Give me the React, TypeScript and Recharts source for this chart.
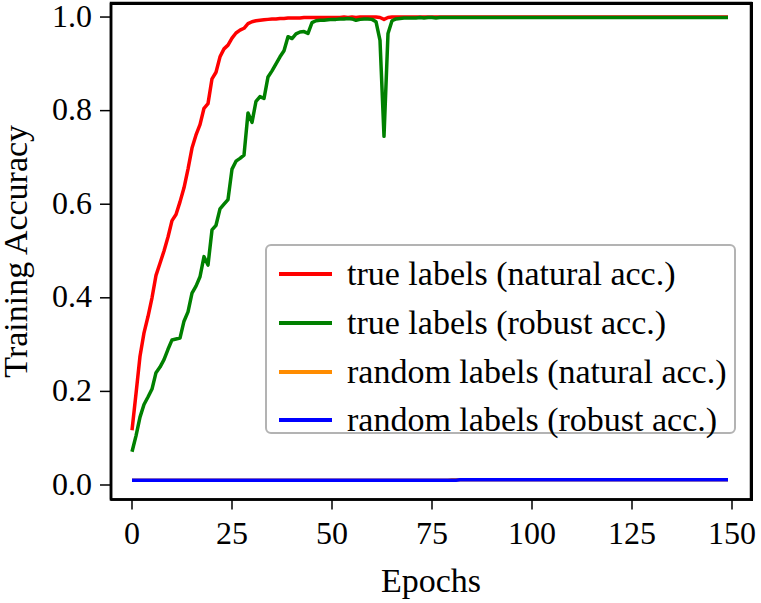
import React from 'react';
import { LineChart, Line, XAxis, YAxis, Legend, ReferenceArea } from 'recharts';

const FONT = '"Liberation Serif", "Times New Roman", serif';

// epochs 0..149
const trueNatural = [
  0.117, 0.195, 0.275, 0.325, 0.36, 0.40, 0.448, 0.474, 0.50, 0.53,
  0.565, 0.578, 0.605, 0.635, 0.675, 0.72, 0.748, 0.77, 0.805, 0.815,
  0.868, 0.882, 0.915, 0.932, 0.94, 0.955, 0.966, 0.972, 0.976, 0.986,
  0.99, 0.992, 0.993, 0.994, 0.995, 0.996, 0.996, 0.997, 0.997, 0.998,
  0.998, 0.998, 0.998, 0.999, 0.999, 0.999, 0.999, 0.999, 0.999, 0.999,
  0.999, 0.999, 0.999, 1.0, 0.999, 1.0, 0.999, 1.0, 1.0, 1.0,
  1.0, 1.0, 0.999, 0.995, 0.999, 1.0, 1.0, 1.0, 1.0, 1.0,
  1.0, 1.0, 1.0, 1.0, 1.0, 1.0, 1.0, 1.0, 1.0, 1.0,
  1.0, 1.0, 1.0, 1.0, 1.0, 1.0, 1.0, 1.0, 1.0, 1.0,
  1.0, 1.0, 1.0, 1.0, 1.0, 1.0, 1.0, 1.0, 1.0, 1.0,
  1.0, 1.0, 1.0, 1.0, 1.0, 1.0, 1.0, 1.0, 1.0, 1.0,
  1.0, 1.0, 1.0, 1.0, 1.0, 1.0, 1.0, 1.0, 1.0, 1.0,
  1.0, 1.0, 1.0, 1.0, 1.0, 1.0, 1.0, 1.0, 1.0, 1.0,
  1.0, 1.0, 1.0, 1.0, 1.0, 1.0, 1.0, 1.0, 1.0, 1.0,
  1.0, 1.0, 1.0, 1.0, 1.0, 1.0, 1.0, 1.0, 1.0, 1.0,
];

const trueRobust = [
  0.071, 0.105, 0.145, 0.172, 0.188, 0.205, 0.24, 0.252, 0.268, 0.29,
  0.31, 0.312, 0.314, 0.35, 0.37, 0.41, 0.425, 0.445, 0.488, 0.47,
  0.545, 0.555, 0.59, 0.60, 0.61, 0.675, 0.692, 0.698, 0.705, 0.795,
  0.775, 0.82, 0.83, 0.826, 0.872, 0.885, 0.90, 0.915, 0.928, 0.958,
  0.954, 0.964, 0.968, 0.969, 0.965, 0.988, 0.992, 0.993, 0.993, 0.994,
  0.995, 0.995, 0.996, 0.996, 0.997, 0.996, 0.993, 0.995, 0.996, 0.996,
  0.995, 0.99, 0.95, 0.745, 0.965, 0.992, 0.996, 0.997, 0.998, 0.998,
  0.998, 0.998, 0.999, 0.998, 0.999, 0.999, 0.998, 0.999, 0.999, 0.999,
  0.999, 0.999, 0.999, 0.999, 0.999, 0.999, 0.999, 0.999, 0.999, 0.999,
  0.999, 0.999, 0.999, 0.999, 0.999, 0.999, 0.999, 0.999, 0.999, 0.999,
  0.999, 0.999, 0.999, 0.999, 0.999, 0.999, 0.999, 0.999, 0.999, 0.999,
  0.999, 0.999, 0.999, 0.999, 0.999, 0.999, 0.999, 0.999, 0.999, 0.999,
  0.999, 0.999, 0.999, 0.999, 0.999, 0.999, 0.999, 0.999, 0.999, 0.999,
  0.999, 0.999, 0.999, 0.999, 0.999, 0.999, 0.999, 0.999, 0.999, 0.999,
  0.999, 0.999, 0.999, 0.999, 0.999, 0.999, 0.999, 0.999, 0.999, 0.999,
];

const randomNatural = [
  0.01, 0.01, 0.01, 0.01, 0.01, 0.01, 0.01, 0.01, 0.01, 0.01,
  0.01, 0.01, 0.01, 0.01, 0.01, 0.01, 0.01, 0.01, 0.01, 0.01,
  0.01, 0.01, 0.01, 0.01, 0.01, 0.01, 0.01, 0.01, 0.01, 0.01,
  0.01, 0.01, 0.01, 0.01, 0.01, 0.01, 0.01, 0.01, 0.01, 0.01,
  0.01, 0.01, 0.01, 0.01, 0.01, 0.01, 0.01, 0.01, 0.01, 0.01,
  0.01, 0.01, 0.01, 0.01, 0.01, 0.01, 0.01, 0.01, 0.01, 0.01,
  0.01, 0.01, 0.01, 0.01, 0.01, 0.01, 0.01, 0.01, 0.01, 0.01,
  0.01, 0.01, 0.01, 0.01, 0.01, 0.01, 0.01, 0.01, 0.01, 0.01,
  0.011, 0.011, 0.011, 0.011, 0.011, 0.011, 0.011, 0.011, 0.011, 0.011,
  0.011, 0.011, 0.011, 0.011, 0.011, 0.011, 0.011, 0.011, 0.011, 0.011,
  0.011, 0.011, 0.011, 0.011, 0.011, 0.011, 0.011, 0.011, 0.011, 0.011,
  0.011, 0.011, 0.011, 0.011, 0.011, 0.011, 0.011, 0.011, 0.011, 0.011,
  0.011, 0.011, 0.011, 0.011, 0.011, 0.011, 0.011, 0.011, 0.011, 0.011,
  0.011, 0.011, 0.011, 0.011, 0.011, 0.011, 0.011, 0.011, 0.011, 0.011,
  0.011, 0.011, 0.011, 0.011, 0.011, 0.011, 0.011, 0.011, 0.011, 0.011,
];

const randomRobust = [
  0.01, 0.01, 0.01, 0.01, 0.01, 0.01, 0.01, 0.01, 0.01, 0.01,
  0.01, 0.01, 0.01, 0.01, 0.01, 0.01, 0.01, 0.01, 0.01, 0.01,
  0.01, 0.01, 0.01, 0.01, 0.01, 0.01, 0.01, 0.01, 0.01, 0.01,
  0.01, 0.01, 0.01, 0.01, 0.01, 0.01, 0.01, 0.01, 0.01, 0.01,
  0.01, 0.01, 0.01, 0.01, 0.01, 0.01, 0.01, 0.01, 0.01, 0.01,
  0.01, 0.01, 0.01, 0.01, 0.01, 0.01, 0.01, 0.01, 0.01, 0.01,
  0.01, 0.01, 0.01, 0.01, 0.01, 0.01, 0.01, 0.01, 0.01, 0.01,
  0.01, 0.01, 0.01, 0.01, 0.01, 0.01, 0.01, 0.01, 0.01, 0.01,
  0.01, 0.01, 0.011, 0.011, 0.011, 0.011, 0.011, 0.011, 0.011, 0.011,
  0.011, 0.011, 0.011, 0.011, 0.011, 0.011, 0.011, 0.011, 0.011, 0.011,
  0.011, 0.011, 0.011, 0.011, 0.011, 0.011, 0.011, 0.011, 0.011, 0.011,
  0.011, 0.011, 0.011, 0.011, 0.011, 0.011, 0.011, 0.011, 0.011, 0.011,
  0.011, 0.011, 0.011, 0.011, 0.011, 0.011, 0.011, 0.011, 0.011, 0.011,
  0.011, 0.011, 0.011, 0.011, 0.011, 0.011, 0.011, 0.011, 0.011, 0.011,
  0.011, 0.011, 0.011, 0.011, 0.011, 0.011, 0.011, 0.011, 0.011, 0.011,
];

const xTicks = [0, 25, 50, 75, 100, 125, 150];
const yTicks = [0, 0.2, 0.4, 0.6, 0.8, 1.0];

const series = [
  { key: 'trueNat', name: 'true labels (natural acc.)', color: '#ff0000' },
  { key: 'trueRob', name: 'true labels (robust acc.)', color: '#008000' },
  { key: 'randNat', name: 'random labels (natural acc.)', color: '#ff8c00' },
  { key: 'randRob', name: 'random labels (robust acc.)', color: '#0000ff' },
];

const chartData = trueNatural.map((v, i) => ({
  epoch: i,
  trueNat: v,
  trueRob: trueRobust[i],
  randNat: randomNatural[i],
  randRob: randomRobust[i],
}));

const X_DOMAIN = [-5.25, 154.75];
const Y_DOMAIN = [-0.031, 1.03];

const textStyle = { fontFamily: FONT, fill: '#000' };

const XTick = ({ x, y, payload }: any) => (
  <text x={x} y={y} dy="0.71em" textAnchor="middle" fontSize={32} style={textStyle}>
    {payload.value}
  </text>
);

const YTick = ({ x, y, payload }: any) => (
  <text x={x} y={y} dy="0.3em" textAnchor="end" fontSize={32} style={textStyle}>
    {Number(payload.value).toFixed(1)}
  </text>
);

const YTitle = ({ viewBox }: any) => {
  const x = 27;
  const y = viewBox.y + viewBox.height / 2;
  return (
    <text
      x={x}
      y={y}
      transform={`rotate(-90 ${x} ${y})`}
      textAnchor="middle"
      fontSize={34}
      style={textStyle}
    >
      Training Accuracy
    </text>
  );
};

const XTitle = ({ viewBox }: any) => {
  const x = viewBox.x + viewBox.width / 2;
  return (
    <text x={x} y={592} textAnchor="middle" fontSize={34} style={textStyle}>
      Epochs
    </text>
  );
};

const renderLegend = () => (
  <div
    style={{
      boxSizing: 'border-box',
      width: 471,
      height: 190,
      border: '2px solid #b3b3b3',
      borderRadius: 6,
      background: '#fff',
      paddingTop: 4,
    }}
  >
    {series.map((s) => (
      <div key={s.key} style={{ display: 'flex', alignItems: 'center', height: 48.7 }}>
        <div style={{ marginLeft: 12, width: 53, height: 4, background: s.color }} />
        <span
          style={{
            marginLeft: 15,
            fontFamily: FONT,
            fontSize: 34,
            lineHeight: 1,
            color: '#000',
            whiteSpace: 'nowrap',
          }}
        >
          {s.name}
        </span>
      </div>
    ))}
  </div>
);

export default function App() {
  return (
    <div
      style={{
        position: 'absolute',
        left: 0,
        top: 0,
        width: 761,
        height: 603,
        background: '#fff',
        fontFamily: FONT,
      }}
    >
      <LineChart
        width={761}
        height={603}
        data={chartData}
        margin={{ top: 3, right: 10, bottom: 0, left: 0 }}
      >
        <XAxis
          dataKey="epoch"
          type="number"
          domain={X_DOMAIN}
          ticks={xTicks}
          allowDataOverflow
          height={103.5}
          tick={<XTick />}
          tickSize={10}
          tickMargin={12}
          tickLine={{ stroke: '#000', strokeWidth: 1.5 }}
          axisLine={{ stroke: '#000', strokeWidth: 2.5 }}
          label={<XTitle />}
        />
        <YAxis
          type="number"
          domain={Y_DOMAIN}
          ticks={yTicks}
          allowDataOverflow
          width={111}
          tick={<YTick />}
          tickSize={11}
          tickMargin={8}
          tickLine={{ stroke: '#000', strokeWidth: 1.5 }}
          axisLine={{ stroke: '#000', strokeWidth: 2.5 }}
          label={<YTitle />}
        />
        {/* plot frame */}
        <ReferenceArea
          x1={X_DOMAIN[0]}
          x2={X_DOMAIN[1]}
          y1={Y_DOMAIN[0]}
          y2={Y_DOMAIN[1]}
          fill="none"
          fillOpacity={0}
          stroke="#000"
          strokeWidth={2.5}
          strokeOpacity={1}
          ifOverflow="visible"
        />
        {series.map((s) => (
          <Line
            key={s.key}
            type="linear"
            dataKey={s.key}
            name={s.name}
            stroke={s.color}
            strokeWidth={3.5}
            strokeLinejoin="round"
            dot={false}
            activeDot={false}
            isAnimationActive={false}
          />
        ))}
        <Legend
          layout="vertical"
          align="center"
          verticalAlign="middle"
          content={renderLegend}
          wrapperStyle={{ left: 265, top: 244, width: 471, height: 190 }}
        />
      </LineChart>
      <div
        style={{
          position: 'absolute',
          left: 109.5,
          top: 1.5,
          width: 643,
          height: 499.5,
          boxSizing: 'border-box',
          borderTop: '3px solid #000',
          borderRight: '3px solid #000',
          pointerEvents: 'none',
        }}
      />
    </div>
  );
}
